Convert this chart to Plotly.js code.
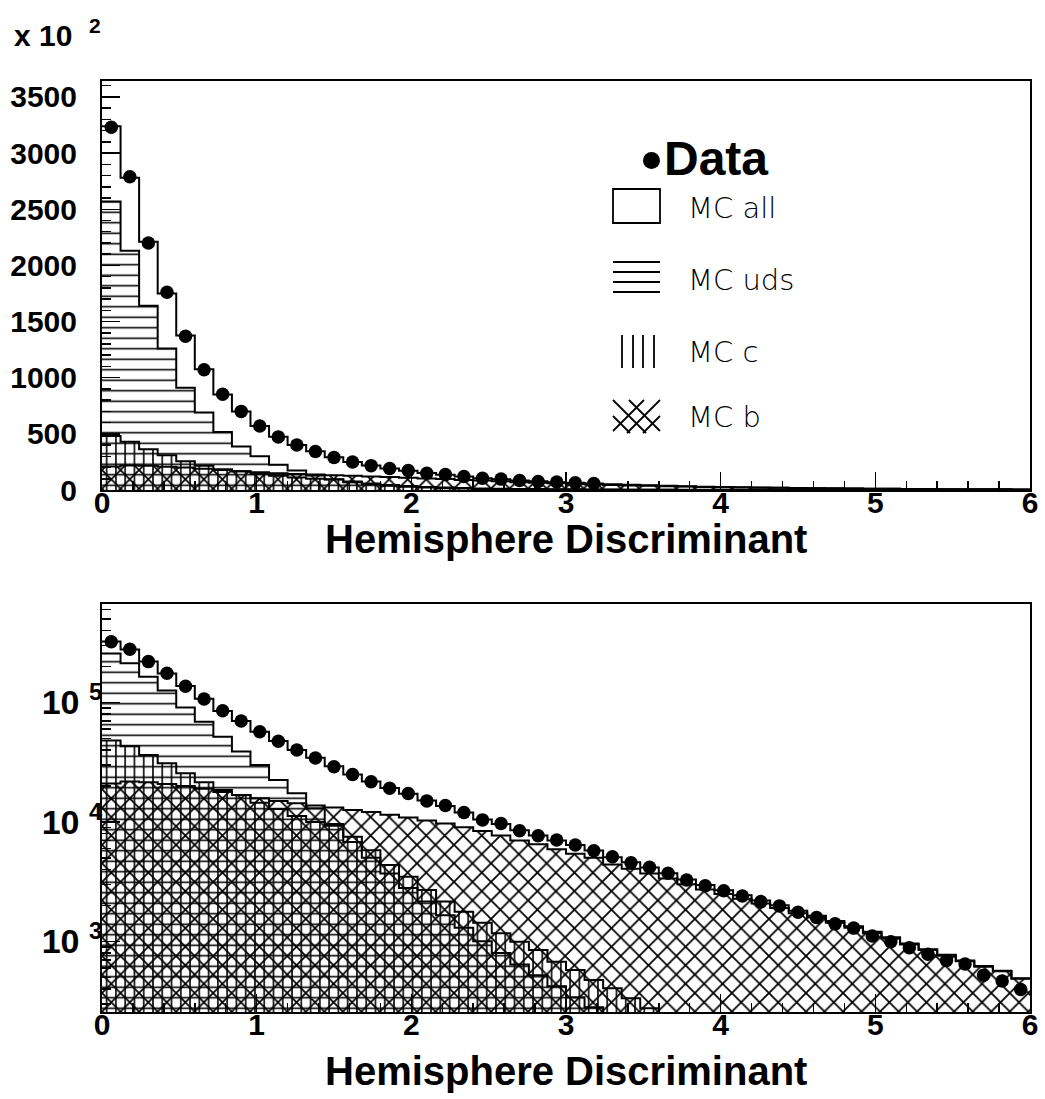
<!DOCTYPE html>
<html>
<head>
<meta charset="utf-8">
<script src="https://cdn.plot.ly/plotly-3.0.1.min.js"></script>
<style>
  html, body { margin: 0; padding: 0; background: #ffffff; }
  #chart { width: 1045px; height: 1099px; }
</style>
</head>
<body>
<div id="chart"></div>
<script>
// ---------------- data (histogram with 50 bins of width 0.12 on [0, 6]) ----------------
const binLow = 0;
const binWidth = 0.12;
const nBins = 50;

// measured data (entries per bin)
const dataCounts = [
  323000, 279000, 220000, 176000, 137000, 107000, 85300, 70000, 56900, 47300,
  40000, 34300, 29000, 25000, 21700, 19100, 17300, 15000, 13700, 12000,
  10400, 9700, 8430, 7660, 7050, 6400, 5740, 5110, 4550, 4170,
  3710, 3260, 2920, 2650, 2400, 2150, 1980, 1750, 1580, 1400,
  1290, 1110, 990, 885, 780, 690, 645, 520, 465, 395
];
// MC total
const mcAll = [
  324000, 278000, 221000, 175000, 137500, 107500, 85000, 70000, 57000, 47500,
  40000, 34500, 29200, 25000, 21800, 19200, 17200, 15100, 13600, 12000,
  10500, 9600, 8500, 7700, 7000, 6400, 5750, 5050, 4600, 4150,
  3720, 3300, 2960, 2680, 2430, 2200, 2000, 1800, 1640, 1480,
  1340, 1200, 1080, 960, 860, 770, 690, 621, 567, 490
];
// MC uds
const mcUds = [
  257000, 213000, 164000, 126000, 91000, 69000, 51700, 38800, 30000, 22400,
  17400, 13000, 9300, 6800, 5000, 3700, 2800, 2150, 1650, 1300,
  1000, 800, 640, 520, 420, 340, 280, 230, 190, 150,
  120, 95, 75, 60, 48, 38, 30, 24, 19, 15,
  12, 10, 8, 6, 5, 4, 3, 3, 2, 2
];
// MC c
const mcC = [
  48000, 43000, 36300, 31000, 25500, 21500, 18500, 16800, 14500, 12800,
  11200, 10000, 9600, 7500, 5800, 4350, 3480, 2690, 2150, 1770,
  1430, 1170, 990, 845, 675, 575, 474, 404, 333, 275,
  220, 180, 150, 120, 100, 80, 65, 50, 40, 32,
  26, 20, 16, 13, 10, 8, 6, 5, 4, 3
];
// MC b
const mcB = [
  21000, 21800, 21500, 20800, 20000, 19000, 17800, 16800, 15800, 15000,
  14300, 13700, 13200, 12600, 12100, 11500, 10900, 10300, 9700, 9000,
  8400, 7700, 7000, 6500, 5900, 5400, 5000, 4400, 4050, 3700,
  3360, 3010, 2720, 2490, 2275, 2075, 1900, 1720, 1580, 1430,
  1300, 1170, 1055, 940, 845, 757, 680, 613, 561, 485
];

const nTopDataPoints = 27;     // data points drawn in the linear panel
const topScale = 100;          // linear panel is in units of 10^2

const xTickLabels = ['0', '1', '2', '3', '4', '5', '6'];
const logTickValues = [1e3, 1e4, 1e5];
const logTickLabels = ['10 <sup>3</sup>', '10 <sup>4</sup>', '10 <sup>5</sup>'];
const xTitle = 'Hemisphere Discriminant';
const legendLabels = ['Data', 'MC all', 'MC uds', 'MC c', 'MC b'];

// ---------------- helpers ----------------
const W = 1045, H = 1099;
const px = x => x / W;
const py = y => 1 - y / H;

const binCenters = dataCounts.map((_, k) => binLow + (k + 0.5) * binWidth);
function stepLine(vals, scale) {
  const xs = [], ys = [];
  for (let k = 0; k < vals.length; k++) {
    xs.push(binLow + k * binWidth);
    ys.push(vals[k] / scale);
  }
  xs.push(binLow + vals.length * binWidth);
  ys.push(vals[vals.length - 1] / scale);
  return { xs, ys };
}

const patterns = {
  uds: { shape: '-', size: 10.5, solidity: 0.15, fillmode: 'replace' },
  c:   { shape: '|', size: 9.27, solidity: 0.17, fillmode: 'replace' },
  b:   { shape: 'x', size: 13.1, solidity: 0.25, fillmode: 'replace' }
};

function panelTraces(xa, ya, scale, nPts) {
  const out = [];
  const comps = [[mcB, patterns.b], [mcC, patterns.c], [mcUds, patterns.uds]];
  comps.forEach(([vals, pat]) => {
    out.push({
      type: 'bar', xaxis: xa, yaxis: ya,
      x0: binLow + binWidth / 2, dx: binWidth,
      y: vals.map(v => v / scale),
      width: binWidth,
      marker: { color: 'black', line: { width: 0 }, pattern: pat },
      hoverinfo: 'skip', showlegend: false
    });
  });
  [mcB, mcC, mcUds, mcAll].forEach(vals => {
    const s = stepLine(vals, scale);
    out.push({
      type: 'scatter', mode: 'lines', xaxis: xa, yaxis: ya,
      x: s.xs, y: s.ys, line: { shape: 'hv', color: 'black', width: 2 },
      hoverinfo: 'skip', showlegend: false
    });
  });
  out.push({
    type: 'scatter', mode: 'markers', xaxis: xa, yaxis: ya,
    x: binCenters.slice(0, nPts),
    y: dataCounts.slice(0, nPts).map(v => v / scale),
    marker: { color: 'black', size: 13.5, symbol: 'circle' },
    showlegend: false
  });
  return out;
}

const traces = [
  ...panelTraces('x', 'y', topScale, nTopDataPoints),
  ...panelTraces('x2', 'y2', 1, nBins)
];

// ---------------- layout ----------------
const boldFont = { family: 'Liberation Sans, Arial, sans-serif', color: 'black', weight: 'bold' };
const tickFont = Object.assign({}, boldFont, { size: 30 });
const titleFont = Object.assign({}, boldFont, { size: 40 });

function xAxis(anchor) {
  return {
    domain: [px(102), px(1030)], anchor: anchor, range: [0, 6],
    tickmode: 'array', tickvals: xTickLabels.map(Number), ticktext: xTickLabels,
    ticks: 'inside', ticklen: 18, tickwidth: 1.5, tickcolor: 'black',
    minor: { ticks: 'inside', ticklen: 9, tickwidth: 1.5, tickcolor: 'black', dtick: 0.2, tick0: 0, showgrid: false },
    showline: true, linewidth: 2, linecolor: 'black', mirror: true,
    showgrid: false, zeroline: false,
    tickfont: tickFont, ticklabelstandoff: -15
  };
}

const minorLog = [];
[100, 1000, 10000, 100000].forEach(d => { for (let m = 2; m <= 9; m++) minorLog.push(m * d); });

const layout = {
  width: W, height: H,
  margin: { l: 0, r: 0, t: 0, b: 0 },
  paper_bgcolor: 'white', plot_bgcolor: 'white',
  showlegend: false, barmode: 'overlay', bargap: 0,
  xaxis: xAxis('y'),
  xaxis2: xAxis('y2'),
  yaxis: {
    domain: [py(490), py(81)], anchor: 'x', range: [0, 3642],
    tickmode: 'linear', tick0: 0, dtick: 500,
    ticks: 'inside', ticklen: 18, tickwidth: 1.5, tickcolor: 'black',
    minor: { ticks: 'inside', ticklen: 9, tickwidth: 1.5, tickcolor: 'black', dtick: 100, tick0: 0, showgrid: false },
    showline: true, linewidth: 2, linecolor: 'black', mirror: true,
    showgrid: false, zeroline: false,
    tickfont: tickFont, ticklabelstandoff: 17
  },
  yaxis2: {
    domain: [py(1012), py(604)], anchor: 'x2', type: 'log', range: [2.408, 5.825],
    tickmode: 'array', tickvals: logTickValues, ticktext: logTickLabels,
    ticks: 'inside', ticklen: 18, tickwidth: 1.5, tickcolor: 'black',
    minor: { ticks: 'inside', ticklen: 9, tickwidth: 1.5, tickcolor: 'black', tickmode: 'array', tickvals: minorLog, showgrid: false },
    showline: true, linewidth: 2, linecolor: 'black', mirror: true,
    showgrid: false, zeroline: false,
    tickfont: Object.assign({}, boldFont, { size: 34 }), ticklabelstandoff: -9
  },
  annotations: [],
  shapes: []
};

// axis titles
[539, 1071].forEach(yc => layout.annotations.push({
  xref: 'paper', yref: 'paper', x: px(566), y: py(yc), xanchor: 'center', yanchor: 'middle',
  text: xTitle, showarrow: false, font: titleFont
}));

// "x 10^2" multiplier label
layout.annotations.push({
  xref: 'paper', yref: 'paper', x: px(12), y: py(33), xanchor: 'left', yanchor: 'middle',
  text: 'x 10&nbsp;&nbsp;<sup>2</sup>', showarrow: false, font: Object.assign({}, boldFont, { size: 30 })
});

// ---------------- legend (drawn by hand) ----------------
const legFont = { family: 'DejaVu Sans, sans-serif', size: 29, color: 'black', weight: 200 };
const legTextX = px(686);
const legRows = [158, 208, 280, 352, 417];
layout.annotations.push({
  xref: 'paper', yref: 'paper', x: px(662), y: py(legRows[0]), xanchor: 'left', yanchor: 'middle',
  text: legendLabels[0], showarrow: false, font: Object.assign({}, boldFont, { size: 48 })
});
for (let i = 1; i < legendLabels.length; i++) {
  layout.annotations.push({
    xref: 'paper', yref: 'paper', x: legTextX, y: py(legRows[i]), xanchor: 'left', yanchor: 'middle',
    text: legendLabels[i], showarrow: false, font: legFont
  });
}
const ln = (x0, y0, x1, y1) => ({
  type: 'line', xref: 'paper', yref: 'paper', x0: px(x0), y0: py(y0), x1: px(x1), y1: py(y1),
  line: { color: 'black', width: 1.8 }
});
// data dot
layout.shapes.push({
  type: 'circle', xref: 'paper', yref: 'paper',
  x0: px(643), x1: px(660), y0: py(152), y1: py(169),
  fillcolor: 'black', line: { color: 'black', width: 0 }
});
// MC all box
layout.shapes.push({
  type: 'rect', xref: 'paper', yref: 'paper', x0: px(613), x1: px(660), y0: py(189), y1: py(223),
  fillcolor: 'rgba(0,0,0,0)', line: { color: 'black', width: 1.8 }
});
// MC uds horizontal lines
[262, 272, 282, 292].forEach(y => layout.shapes.push(ln(613, y, 660, y)));
// MC c vertical lines
[622, 633, 643, 654].forEach(x => layout.shapes.push(ln(x, 335, x, 368)));
// MC b cross hatch (small lattice)
layout.shapes.push(ln(613, 400, 646, 433));
layout.shapes.push(ln(629, 400, 660, 431));
layout.shapes.push(ln(613, 416, 630, 433));
layout.shapes.push(ln(660, 400, 627, 433));
layout.shapes.push(ln(644, 400, 613, 431));
layout.shapes.push(ln(660, 416, 643, 433));

Plotly.newPlot('chart', traces, layout, { staticPlot: true, displayModeBar: false });
</script>
</body>
</html>
